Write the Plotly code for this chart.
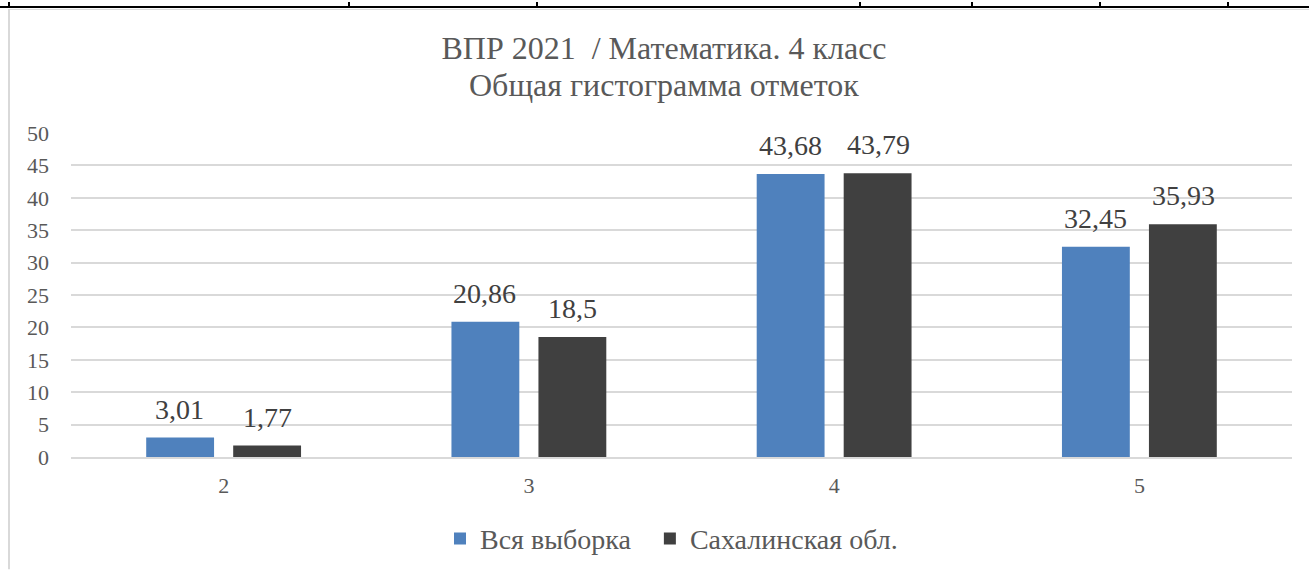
import plotly.graph_objects as go

categories = ["2", "3", "4", "5"]
series_names = ["Вся выборка", "Сахалинская обл."]
vals_all = [3.01, 20.86, 43.68, 32.45]
vals_sakh = [1.77, 18.5, 43.79, 35.93]
colors = ["#4f81bd", "#404040"]
y_ticks = [0, 5, 10, 15, 20, 25, 30, 35, 40, 45, 50]
title_line1 = "ВПР 2021  / Математика. 4 класс"
title_line2 = "Общая гистограмма отметок"

W, H = 1309, 576
ML, MR, MT, MB = 71, 17, 133, 114
PW, PH = W - ML - MR, H - MT - MB

def fmt(v):
    return f"{v:g}".replace(".", ",")

FONT = "Liberation Serif"
TXT = "#595959"
LBL = "#404040"

fig = go.Figure()
legend_names = [series_names[0] + "\u00a0\u00a0", series_names[1]]
for name, vals, col in zip(legend_names, [vals_all, vals_sakh], colors):
    fig.add_trace(go.Bar(
        x=categories, y=vals, name=name, marker=dict(color=col, line=dict(width=0)),
        hoverinfo="x+y",
    ))

# data labels above each bar (x = category index on the category axis)
offsets = [-44, 44]
for vals, dx in zip([vals_all, vals_sakh], offsets):
    for i, v in enumerate(vals):
        fig.add_annotation(x=i, y=v, xref="x", yref="y", text=fmt(v), showarrow=False,
                           xshift=dx, yshift=11, yanchor="bottom", xanchor="center",
                           font=dict(family=FONT, size=28, color=LBL))

def px2paper_x(px):
    return (px - ML) / PW

def px2paper_y(py):
    return (H - MB - py) / PH

# second title line
fig.add_annotation(text=title_line2, xref="paper", yref="paper",
                   x=px2paper_x(664), y=px2paper_y(84), xanchor="center", yanchor="middle",
                   showarrow=False, font=dict(family=FONT, size=32, color=TXT))

shapes = []
shapes.append(dict(type="line", xref="paper", yref="paper",
                   x0=px2paper_x(0), x1=px2paper_x(W), y0=px2paper_y(5), y1=px2paper_y(5),
                   line=dict(color="#000000", width=2)))
shapes.append(dict(type="line", xref="paper", yref="paper",
                   x0=px2paper_x(9), x1=px2paper_x(W), y0=px2paper_y(7.5), y1=px2paper_y(7.5),
                   line=dict(color="#d9d9d9", width=1)))
for vx in [9, 349, 537, 860, 972, 1100, 1228]:
    shapes.append(dict(type="line", xref="paper", yref="paper",
                       x0=px2paper_x(vx), x1=px2paper_x(vx), y0=px2paper_y(0), y1=px2paper_y(5),
                       line=dict(color="#000000", width=2)))
shapes.append(dict(type="line", xref="paper", yref="paper",
                   x0=px2paper_x(9), x1=px2paper_x(9), y0=px2paper_y(7), y1=px2paper_y(H),
                   line=dict(color="#d9d9d9", width=2)))

fig.update_layout(
    width=W, height=H,
    margin=dict(l=ML, r=MR, t=MT, b=MB),
    paper_bgcolor="white", plot_bgcolor="white",
    font=dict(family=FONT, color=TXT),
    title=dict(text=title_line1,
               x=664 / W, xanchor="center", y=1 - 48 / H, yanchor="middle",
               font=dict(family=FONT, size=32, color=TXT)),
    barmode="group", bargap=0.43, bargroupgap=0.22,
    showlegend=True,
    legend=dict(orientation="h", x=px2paper_x(440), xanchor="left", y=px2paper_y(545), yanchor="middle",
                font=dict(family=FONT, size=28, color=TXT), itemwidth=30,
                traceorder="normal"),
    shapes=shapes,
)
fig.update_yaxes(range=[0, 50], tickvals=y_ticks, ticktext=[str(t) for t in y_ticks],
                 showgrid=True, gridcolor="#d9d9d9", gridwidth=1.5, zeroline=False,
                 showline=False, tickfont=dict(family=FONT, size=22, color=TXT),
                 ticklabelstandoff=21)
fig.update_xaxes(type="category", range=[-0.5, len(categories) - 0.5],
                 showline=True, linecolor="#d9d9d9", linewidth=2, showgrid=False,
                 tickfont=dict(family=FONT, size=22, color=TXT), ticks="",
                 ticklabelstandoff=8)

fig.write_html("out.html", config={"displayModeBar": False},
               post_script="document.body.style.margin='0';")
